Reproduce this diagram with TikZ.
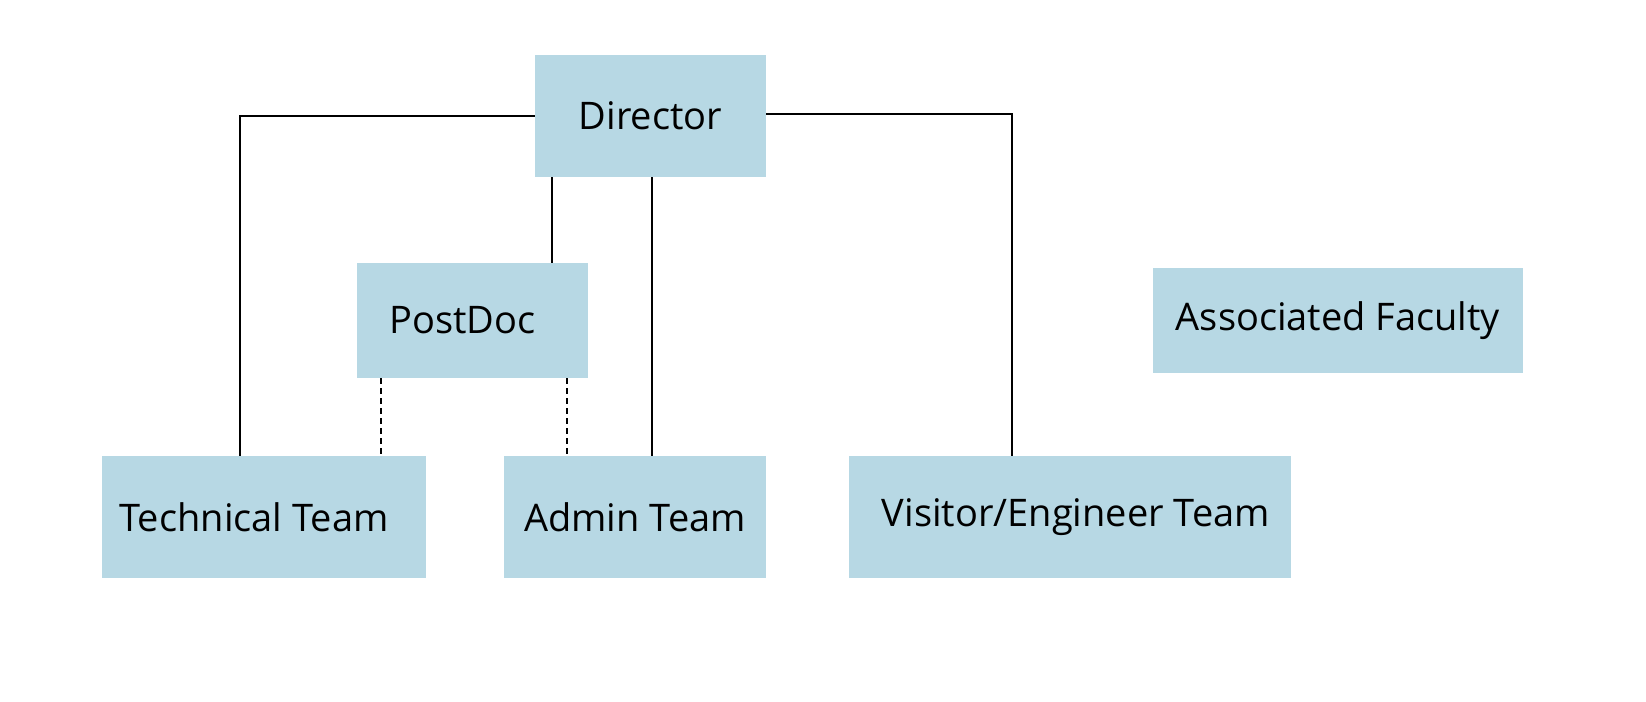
\documentclass[tikz,border=0pt]{standalone}
\usepackage{fontspec}
\setmainfont{Open Sans}
\usepackage{tikz}
\usetikzlibrary{positioning,calc}
\definecolor{boxBlue}{RGB}{183, 216, 228}

\begin{document}
\begin{tikzpicture}[
        x=0.5pt, y=-0.5pt,
        unit/.style={rectangle, fill=boxBlue, minimum width=#1, inner sep=0pt, font=\fontsize{19}{23}\selectfont},
        link/.style={draw=black, line width=1pt},
        dotlink/.style={draw=black, line width=1pt, dash pattern=on 3pt off 2pt}
    ]
        \useasboundingbox (0,0) rectangle (1646,702);
        % Boxes
        \node[unit=115.5pt, minimum height=61pt] (dir) at (650.5,116) {Director};
        \node[unit=115.5pt, minimum height=57.5pt] (post) at (472.5,320.5) {PostDoc\hspace*{10pt}};
        \node[unit=162pt, minimum height=61pt] (tech) at (264,517) {Technical Team\hspace*{10pt}};
        \node[unit=131pt, minimum height=61pt] (admin) at (635,517) {Admin Team};
        \node[unit=221pt, minimum height=61pt] (visit) at (1070,517) {\hspace*{6pt}Visitor/Engineer Team};
        \node[unit=185pt, minimum height=52.5pt] (assoc) at (1338,320.5) {Associated Faculty};
        
        % Lines
        \draw[link] (dir.west) -| ($(tech.north)+(-24,0)$);
        \draw[link] ($(dir.east)+(0,-2)$) -| ($(visit.north)+(-58,0)$);
        \draw[link] ($(dir.south west)+(17,0)$) coordinate (d1) -- (d1 |- post.north);
        \draw[link] ($(dir.south)+(1.5,0)$) coordinate (d2) -- (d2 |- admin.north);
        
        % Dashed lines
        \draw[dotlink] ($(post.south west)+(24,0)$) coordinate (p1) -- (p1 |- tech.north);
        \draw[dotlink] ($(post.south east)+(-21,0)$) coordinate (p2) -- (p2 |- admin.north);
        
    \end{tikzpicture}
\end{document}
